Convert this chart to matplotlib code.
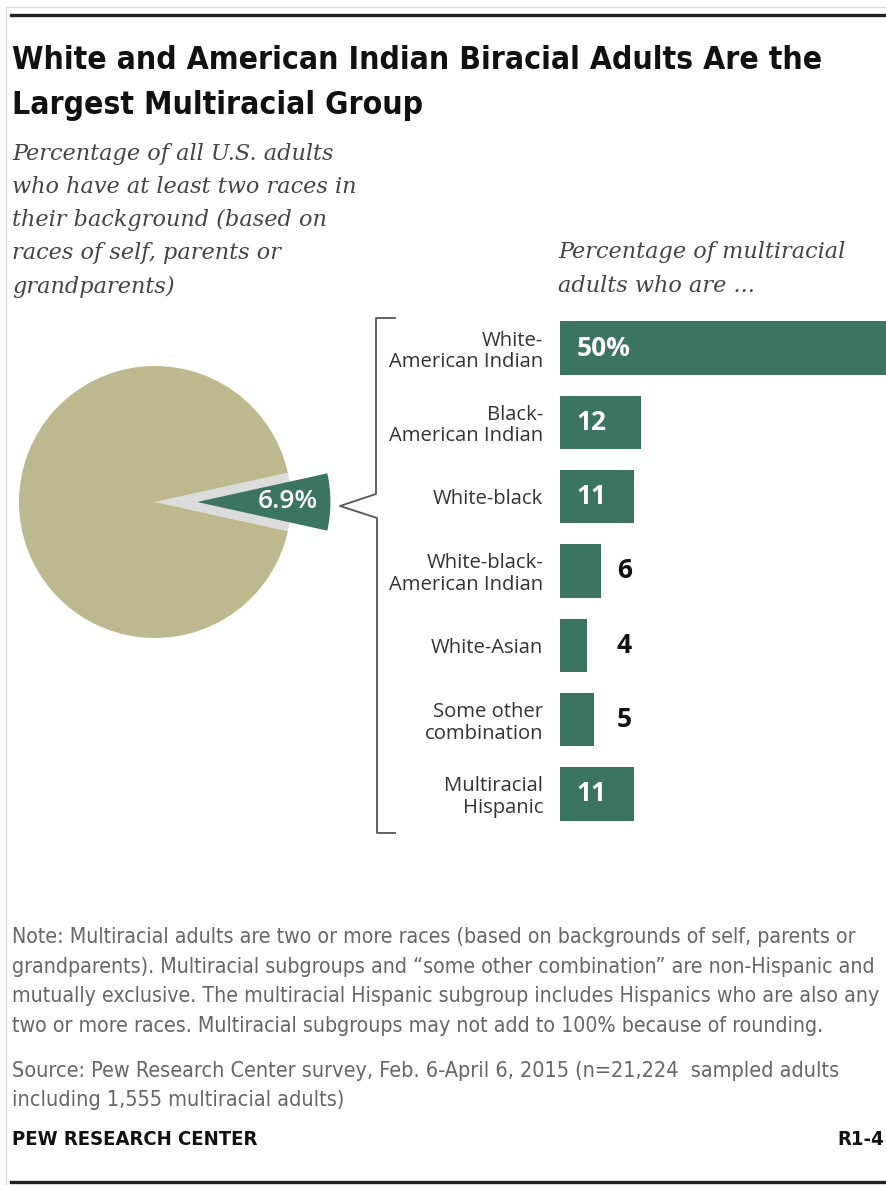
import numpy as np
import matplotlib
matplotlib.use("Agg")
import matplotlib.pyplot as plt
from matplotlib.lines import Line2D
from matplotlib import font_manager

# overall share of U.S. adults with two or more races in their background
overall_share = 6.9

# breakdown of multiracial adults
groups = [
    "White-\nAmerican Indian",
    "Black-\nAmerican Indian",
    "White-black",
    "White-black-\nAmerican Indian",
    "White-Asian",
    "Some other\ncombination",
    "Multiracial\nHispanic",
]
group_shares = [50, 12, 11, 6, 4, 5, 11]

title_lines = [
    "White and American Indian Biracial Adults Are the",
    "Largest Multiracial Group",
]
pie_caption = [
    "Percentage of all U.S. adults",
    "who have at least two races in",
    "their background (based on",
    "races of self, parents or",
    "grandparents)",
]
bar_caption = ["Percentage of multiracial", "adults who are ..."]
note_lines = [
    "Note: Multiracial adults are two or more races (based on backgrounds of self, parents or",
    "grandparents). Multiracial subgroups and \u201csome other combination\u201d are non-Hispanic and",
    "mutually exclusive. The multiracial Hispanic subgroup includes Hispanics who are also any",
    "two or more races. Multiracial subgroups may not add to 100% because of rounding.",
]
source_lines = [
    "Source: Pew Research Center survey, Feb. 6-April 6, 2015 (n=21,224  sampled adults",
    "including 1,555 multiracial adults)",
]

GREEN = "#3b7562"
TAN = "#bdb88d"
LIGHT = "#dcdcdc"

W, H = 886, 1185
fig = plt.figure(figsize=(W / 100, H / 100), dpi=100)
fig.patch.set_facecolor("white")

fonts = font_manager.fontManager.ttflist
names = {f.name for f in fonts}
if "Liberation Sans Narrow" in names:
    NARROW, STRETCH = "Liberation Sans Narrow", "normal"
elif any(f.name == "DejaVu Sans" and f.stretch == "condensed" for f in fonts):
    NARROW, STRETCH = "DejaVu Sans", "condensed"
else:
    NARROW, STRETCH = "Roboto", "normal"
SANS = "Open Sans" if "Open Sans" in names else "DejaVu Sans"
NARROW_KW = dict(family=[NARROW, "DejaVu Sans"], fontstretch=STRETCH)


def fx(x):
    return x / W


def fy(y):
    return 1 - y / H


def text_block(lines, x, baselines, fit_width, **kw):
    # scale the font so the widest line spans fit_width pixels
    arts = [fig.text(fx(x), fy(b), s, va="baseline", ha="left", **kw)
            for s, b in zip(lines, baselines)]
    r = fig.canvas.get_renderer()
    w = max(a.get_window_extent(r).width for a in arts)
    size = arts[0].get_fontsize() * fit_width / w
    for a in arts:
        a.set_fontsize(size)
    return size


def hline(x0, x1, y, **kw):
    fig.add_artist(Line2D([fx(x0), fx(x1)], [fy(y), fy(y)], transform=fig.transFigure, **kw))


# frame and rules
fig.add_artist(Line2D([fx(6), fx(6), fx(886)], [fy(1185), fy(7), fy(7)],
                      transform=fig.transFigure, color="#dedede", lw=1))
hline(11, 886, 15, color="#222222", lw=2.4)
hline(11, 886, 1182, color="#222222", lw=2.4)

# title
text_block(title_lines, 12, [69, 114], 811, fontweight="bold", color="#111111",
           fontsize=24, **NARROW_KW)

# captions
cap_size = text_block(pie_caption, 12, [160, 193, 226, 259, 293], 345,
                      family="DejaVu Serif", style="italic", color="#444444", fontsize=15)
fig.text(fx(558), fy(258), bar_caption[0], family="DejaVu Serif", style="italic",
         color="#444444", fontsize=cap_size, va="baseline")
fig.text(fx(558), fy(292), bar_caption[1], family="DejaVu Serif", style="italic",
         color="#444444", fontsize=cap_size, va="baseline")

# pie: overall share, with the multiracial slice pulled out
R = 136
pax = fig.add_axes([0, fy(502 + 170), 340 / W, 340 / H])
share = [overall_share, 100 - overall_share]
start = -share[0] * 3.6 / 2
pax.pie(share, colors=[LIGHT, TAN], startangle=start, radius=1,
        wedgeprops=dict(linewidth=0))
wedges, texts, autotexts = pax.pie(
    share, colors=[GREEN, "none"], startangle=start, radius=0.98,
    explode=[0.31, 0], autopct="%.1f%%", pctdistance=0.68,
    wedgeprops=dict(linewidth=0),
    textprops=dict(color="white", fontsize=19, family=SANS, fontweight="semibold"))
autotexts[1].set_visible(False)
pax.set_xlim(-155 / R, 185 / R)
pax.set_ylim(-170 / R, 170 / R)
pax.axis("off")

# bracket joining the slice to the breakdown
fig.add_artist(Line2D([fx(v) for v in (395, 376, 376, 340, 377, 377, 395)],
                      [fy(v) for v in (318, 318, 494, 506, 518, 833, 833)],
                      transform=fig.transFigure, color="#555555", lw=1.3))

# bars
step = 74.33
PXU = 6.75
bax = fig.add_axes([fx(560), fy(348 + 6.5 * step), (W - 560) / W, 7 * step / H])
ypos = np.arange(len(groups))
bax.barh(ypos, group_shares, height=0.72, color=GREEN)
bax.set_xlim(0, (W - 560) / PXU)
bax.set_ylim(len(groups) - 0.5, -0.5)
bax.set_yticks(ypos, groups)
bax.set_xticks([])
bax.tick_params(axis="y", length=0, pad=12)
for lab in bax.get_yticklabels():
    lab.set_family(SANS)
    lab.set_fontsize(14.6)
    lab.set_color("#333333")
    lab.set_linespacing(1.1)
for sp in bax.spines.values():
    sp.set_visible(False)

for i, v in enumerate(group_shares):
    s = f"{v}%" if i == 0 else str(v)
    if v >= 10:
        bax.text(2.5, i, s, color="white", ha="left", va="center",
                 fontsize=19, fontweight="bold", family=SANS)
    else:
        bax.text(8.4, i, s, color="#111111", ha="left", va="center",
                 fontsize=19, fontweight="bold", family=SANS)

# notes
text_block(note_lines, 12, [943, 973, 1002, 1032], 871, color="#666666",
           fontsize=13, **NARROW_KW)
note_size = text_block(source_lines, 12, [1077, 1106], 828, color="#666666",
                       fontsize=13, **NARROW_KW)
pew = text_block(["PEW RESEARCH CENTER"], 12, [1145], 246, fontweight="bold",
                 color="#111111", fontsize=12, **NARROW_KW)
fig.text(fx(884), fy(1145), "R1-4", fontweight="bold", color="#111111", fontsize=pew,
         va="baseline", ha="right", **NARROW_KW)

fig.savefig("out.png", dpi=100, facecolor="white")
